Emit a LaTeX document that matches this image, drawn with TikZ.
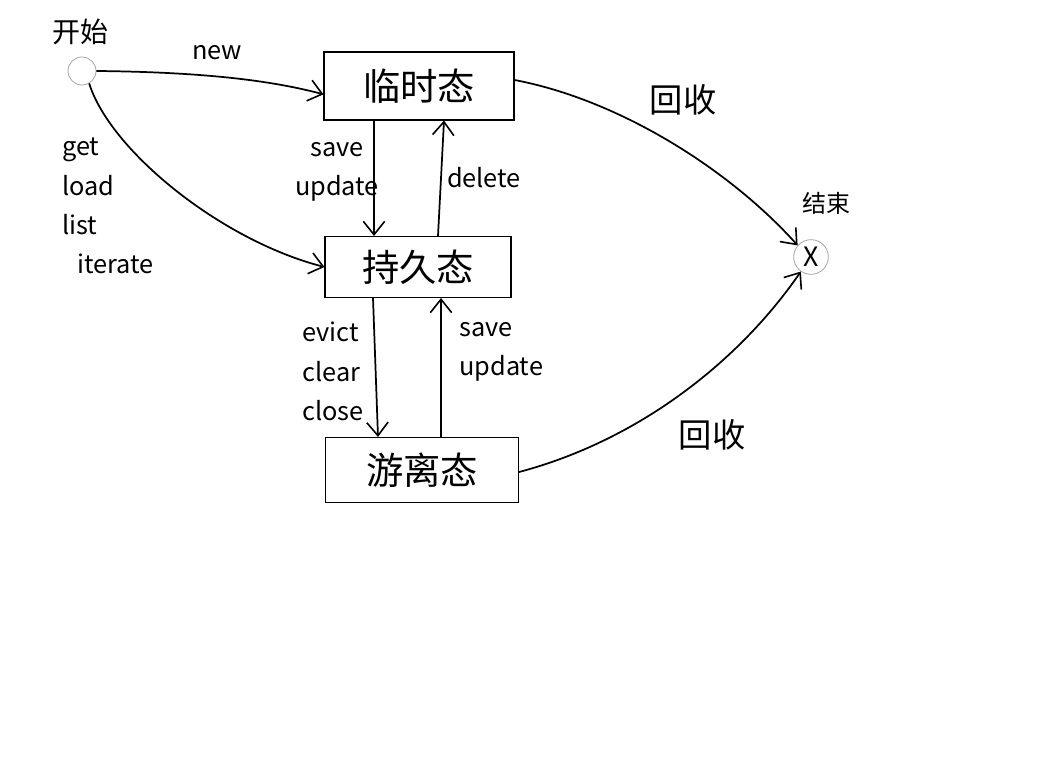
\documentclass[tikz,border=0pt]{standalone}
\usepackage{fontspec}
\setmainfont{Noto Sans CJK SC}
\usetikzlibrary{arrows.meta}
\begin{document}
\begin{tikzpicture}[x=0.75pt,y=-0.75pt,
  state/.style={draw,line width=0.8pt,inner sep=0pt,font=\fontsize{28}{30}\selectfont},
  pt/.style={draw=gray!70,line width=0.6pt,circle,inner sep=0pt,minimum size=#1},
  conn/.style={line width=1.3pt,-{Straight Barb[length=10pt,width=16pt,line width=1.2pt]}},
  lbl/.style={font=\fontsize{19}{29.5}\selectfont,inner sep=0pt},
  cjk/.style={font=\fontsize{21}{24}\selectfont,inner sep=0pt}]
\fill[white] (0,0) rectangle (1050,777);
\path[use as bounding box] (0,0) rectangle (1050,777);
% nodes
\node[pt=21pt] (s) at (82,71) {};
\node[cjk] (slbl) at (80,32) {开始};
\node[state,minimum width=142.5pt,minimum height=51pt] (t) at (419,86) {临时态};
\node[state,minimum width=139.5pt,minimum height=45.75pt] (p) at (418,267) {持久态};
\node[state,minimum width=144.75pt,minimum height=48.75pt] (f) at (422,470) {游离态};
\node[pt=26pt,font=\fontsize{20}{22}\selectfont] (e) at (811,257) {X};
\node[cjk,font=\fontsize{18}{20}\selectfont] (elbl) at (826,203) {结束};
% connectors
\draw[conn] (s.east) .. controls (200,72) and (270,80) .. (t.185);
\draw[conn] (s.-60) .. controls (110,150) and (220,240) .. (p.west);
\draw[conn] ([xshift=-33.75pt]t.south) -- ([xshift=-33pt]p.north);
\draw[conn] ([xshift=15pt]p.north) -- ([xshift=18.75pt]t.south);
\draw[conn] ([xshift=-33.75pt]p.south) -- ([xshift=-33pt]f.north);
\draw[conn] ([xshift=14.25pt]f.north) -- ([xshift=17.25pt]p.south);
\draw[conn] ([yshift=4.5pt]t.east) .. controls (620,100) and (730,170) .. (e.139);
\draw[conn] ([yshift=-1.5pt]f.east) .. controls (640,440) and (740,360) .. (e.235);
% labels
\node[lbl] (lnew) at (217,53) {new};
\node[lbl,align=left,anchor=north west] (lget) at (62,138) {get\\load\\list\\\hspace{0.6em}iterate};
\node[lbl,align=center] (lsu1) at (337,172) {save\\update};
\node[lbl] (ldel) at (484,178) {delete};
\node[lbl,align=left,anchor=north west] (lecc) at (302,322) {evict\\clear\\close};
\node[lbl,align=left,anchor=north west] (lsu2) at (459,322) {save\\update};
\node[cjk,font=\fontsize{25}{27}\selectfont] (lr1) at (683,100) {回收};
\node[cjk,font=\fontsize{25}{27}\selectfont] (lr2) at (712,435) {回收};
\end{tikzpicture}
\end{document}
